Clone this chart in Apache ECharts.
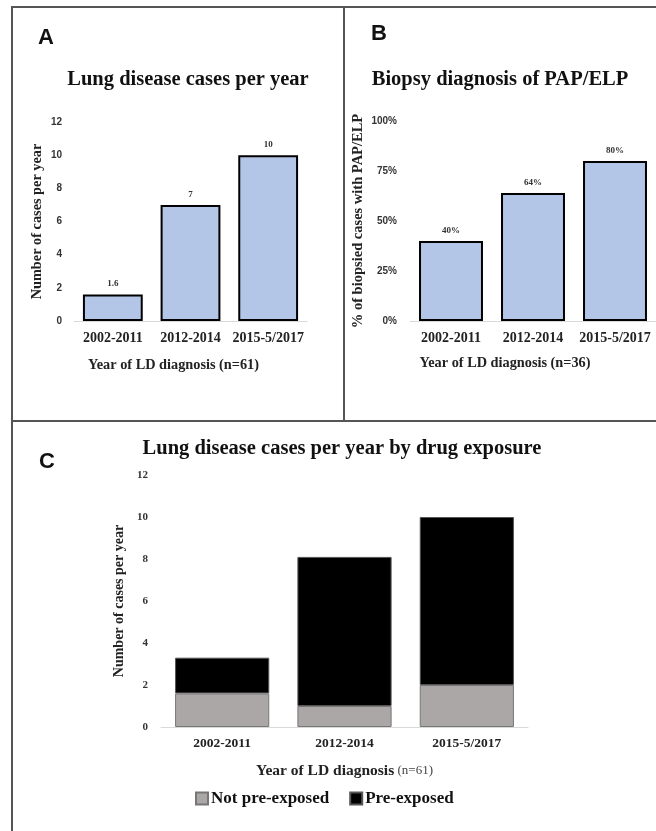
<!DOCTYPE html>
<html>
<head>
<meta charset="utf-8">
<script src="https://cdn.jsdelivr.net/npm/echarts@6/dist/echarts.min.js"></script>
<style>html,body{margin:0;padding:0;background:#fff}#c{width:656px;height:831px}</style>
</head>
<body>
<div id="c"></div>
<script>
var categories = ['2002-2011', '2012-2014', '2015-5/2017'];
var casesPerYear = [1.6, 7, 10];
var biopsyPct = [40, 64, 80];
var notPreExposed = [1.6, 1.0, 2.0];
var preExposed = [1.7, 7.1, 8.0];
var seriesNames = ['Not pre-exposed', 'Pre-exposed'];

var SERIF = '"Liberation Serif", "Times New Roman", serif';
var SANS = '"Liberation Sans", Arial, sans-serif';

var chart = echarts.init(document.getElementById('c'));

function catAxis(gi, nameTxt, nameGap, fs, shiftLeft) {
  return {
    type: 'category', gridIndex: gi, data: categories,
    axisLine: { show: true, lineStyle: { color: '#d9d9d9', width: 1 } },
    axisTick: { show: false },
    axisLabel: { interval: 0, hideOverlap: false, fontFamily: SERIF, fontWeight: 'bold', fontSize: fs, color: '#222', margin: 10 },
    name: nameTxt, nameLocation: 'middle', nameGap: nameGap,
    nameTextStyle: { fontFamily: SERIF, fontWeight: 'bold', fontSize: 14.3, color: '#222', padding: [0, shiftLeft * 2, 0, 0] }
  };
}

var option = {
  animation: false,
  backgroundColor: '#fff',
  grid: [
    { left: 74, top: 122, width: 233, height: 199 },
    { left: 410, top: 121, width: 246, height: 200 },
    { left: 161, top: 475, width: 367, height: 252 }
  ],
  xAxis: [
    catAxis(0, 'Year of LD diagnosis (n=61)', 37, 14, 17),
    catAxis(1, 'Year of LD diagnosis (n=36)', 35, 14, 28),
    (function () {
      var a = catAxis(2, '{b|Year of LD diagnosis} {n|(n=61)}', 36, 13.5, 0);
      a.nameTextStyle = { rich: {
        b: { fontFamily: SERIF, fontWeight: 'bold', fontSize: 15.5, color: '#222' },
        n: { fontFamily: SERIF, fontSize: 13, color: '#444' }
      } };
      return a;
    })()
  ],
  yAxis: [
    {
      type: 'value', gridIndex: 0, min: 0, max: 12, interval: 2,
      splitLine: { show: false }, axisLine: { show: false }, axisTick: { show: false },
      axisLabel: { fontFamily: SANS, fontWeight: 'bold', fontSize: 10, color: '#333', margin: 12 },
      name: 'Number of cases per year', nameLocation: 'middle', nameGap: 30,
      nameTextStyle: { fontFamily: SERIF, fontWeight: 'bold', fontSize: 14.3, color: '#222' }
    },
    {
      type: 'value', gridIndex: 1, min: 0, max: 100, interval: 25,
      splitLine: { show: false }, axisLine: { show: false }, axisTick: { show: false },
      axisLabel: { fontFamily: SANS, fontWeight: 'bold', fontSize: 10, color: '#333', margin: 13, formatter: '{value}%' },
      name: '% of biopsied cases with PAP/ELP', nameLocation: 'middle', nameGap: 44,
      nameTextStyle: { fontFamily: SERIF, fontWeight: 'bold', fontSize: 14.5, color: '#222' }
    },
    {
      type: 'value', gridIndex: 2, min: 0, max: 12, interval: 2,
      splitLine: { show: false }, axisLine: { show: false }, axisTick: { show: false },
      axisLabel: { fontFamily: SERIF, fontWeight: 'bold', fontSize: 11, color: '#333', margin: 13 },
      name: 'Number of cases per year', nameLocation: 'middle', nameGap: 31,
      nameTextStyle: { fontFamily: SERIF, fontWeight: 'bold', fontSize: 14, color: '#222' }
    }
  ],
  legend: {
    data: seriesNames, left: 190, top: 785, itemWidth: 12, itemHeight: 12, itemGap: 20,
    icon: 'rect',
    textStyle: { fontFamily: SERIF, fontWeight: 'bold', fontSize: 17, color: '#111', padding: [0, 0, 0, -2] }
  },
  series: [
    {
      type: 'bar', xAxisIndex: 0, yAxisIndex: 0, data: casesPerYear, barWidth: '77%',
      itemStyle: { color: '#b4c6e7', borderColor: '#000', borderWidth: 2 },
      label: { show: true, position: 'top', distance: 6, fontFamily: SERIF, fontWeight: 'bold', fontSize: 9, color: '#333' }
    },
    {
      type: 'bar', xAxisIndex: 1, yAxisIndex: 1, data: biopsyPct, barWidth: '78%',
      itemStyle: { color: '#b4c6e7', borderColor: '#000', borderWidth: 2 },
      label: { show: true, position: 'top', distance: 6, fontFamily: SERIF, fontWeight: 'bold', fontSize: 9, color: '#333', formatter: '{c}%' }
    },
    {
      name: seriesNames[0], type: 'bar', stack: 'c', xAxisIndex: 2, yAxisIndex: 2, data: notPreExposed, barWidth: '77%',
      itemStyle: { color: '#aba7a6', borderColor: '#777', borderWidth: 1 }
    },
    {
      name: seriesNames[1], type: 'bar', stack: 'c', xAxisIndex: 2, yAxisIndex: 2, data: preExposed, barWidth: '77%',
      itemStyle: { color: '#000', borderColor: '#555', borderWidth: 1 }
    }
  ],
  graphic: [
    { type: 'rect', shape: { x: 12, y: 7, width: 660, height: 840 }, style: { fill: 'none', stroke: '#555', lineWidth: 2 }, silent: true, z: 100 },
    { type: 'line', shape: { x1: 12, y1: 421, x2: 660, y2: 421 }, style: { stroke: '#555', lineWidth: 2 }, silent: true, z: 100 },
    { type: 'line', shape: { x1: 344, y1: 7, x2: 344, y2: 421 }, style: { stroke: '#555', lineWidth: 2 }, silent: true, z: 100 },
    { type: 'text', left: 38, top: 27, style: { text: 'A', fontFamily: SANS, fontWeight: 'bold', fontSize: 22, fill: '#111' } },
    { type: 'text', left: 371, top: 23, style: { text: 'B', fontFamily: SANS, fontWeight: 'bold', fontSize: 22, fill: '#111' } },
    { type: 'text', left: 39, top: 451, style: { text: 'C', fontFamily: SANS, fontWeight: 'bold', fontSize: 22, fill: '#111' } },
    { type: 'text', x: 188, y: 80, style: { text: 'Lung disease cases per year', fontFamily: SERIF, fontWeight: 'bold', fontSize: 20.5, fill: '#111', textAlign: 'center', textVerticalAlign: 'middle' } },
    { type: 'text', x: 500, y: 80, style: { text: 'Biopsy diagnosis of PAP/ELP', fontFamily: SERIF, fontWeight: 'bold', fontSize: 20.5, fill: '#111', textAlign: 'center', textVerticalAlign: 'middle' } },
    { type: 'text', x: 342, y: 449, style: { text: 'Lung disease cases per year by drug exposure', fontFamily: SERIF, fontWeight: 'bold', fontSize: 20.5, fill: '#111', textAlign: 'center', textVerticalAlign: 'middle' } }
  ]
};
chart.setOption(option);
</script>
</body>
</html>
